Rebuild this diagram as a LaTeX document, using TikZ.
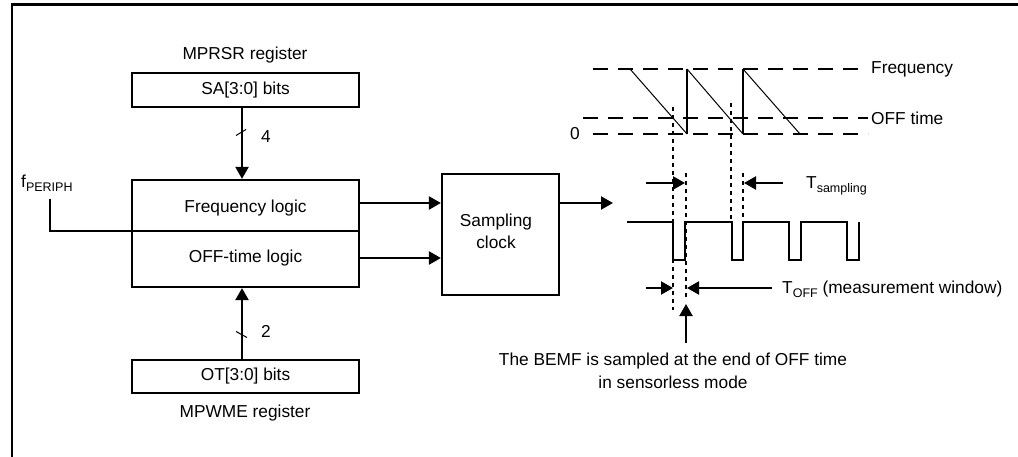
\documentclass[tikz,border=0pt]{standalone}
\usepackage{fontspec}
\setmainfont{Liberation Sans}
\usetikzlibrary{arrows.meta}
\newcommand\mysub[1]{\raisebox{-0.45ex}{\fontsize{12.5}{12.5}\selectfont #1}}
\begin{document}
\begin{tikzpicture}[x=1pt,y=-1pt,
  txt/.style={inner sep=0pt,font=\fontsize{17.3}{20}\selectfont},
  box/.style={draw,line width=2.2pt,inner sep=0pt,font=\fontsize{17.3}{20}\selectfont},
  thick2/.style={line width=2.2pt},
  arr/.style={line width=2.2pt,-{Triangle[length=12pt,width=13pt]}},
  dashH/.style={line width=2.2pt,dash pattern=on 15pt off 10pt},
  dashV/.style={line width=2.2pt,dash pattern=on 4pt off 4pt},
  thin1/.style={line width=1pt}]
\useasboundingbox (0,0) rectangle (1018,457);
% frame
\coordinate (fl) at (12,457);
\coordinate (ftl) at (12,4.5);
\coordinate (ftr) at (1018,4.5);
\draw[thick2] (fl) -- (ftl) -- (ftr);
% left blocks
\node[txt] (mprsr) at (245,55) {MPRSR register};
\node[box,minimum width=227pt,minimum height=34pt] (sa) at (245.5,90) {SA[3:0] bits};
\node[box,minimum width=227pt,minimum height=107pt] (logic) at (245.5,233.5) {};
\node[txt] (freq) at (245.5,208) {Frequency logic};
\node[txt] (offl) at (245.5,258) {OFF-time logic};
\node[box,minimum width=227pt,minimum height=33pt] (ot) at (245.5,376.5) {OT[3:0] bits};
\node[txt] (mpwme) at (245,413) {MPWME register};
\node[txt,anchor=west] (fp) at (21,183) {f\mysub{PERIPH}};
\coordinate (fpa) at (50,199);
\coordinate (fpb) at (50,231);
\draw[thick2] (fpa) -- (fpb) -- (fpb -| logic.east);
\draw[arr] ([xshift=-3.5pt]sa.south) -- ([xshift=-3.5pt]logic.north);
\draw[arr] ([xshift=-3.5pt]ot.north) -- ([xshift=-3.5pt]logic.south);
\coordinate (s1a) at (236,135.5); \coordinate (s1b) at (246,129.5);
\draw[thin1] (s1a) -- (s1b);
\coordinate (s2a) at (236,331.5); \coordinate (s2b) at (247,337.5);
\draw[thin1] (s2a) -- (s2b);
\node[txt] (n4) at (266,137) {4};
\node[txt] (n2) at (266,331) {2};
% sampling clock
\node[box,minimum width=117pt,minimum height=121pt] (samp) at (500.5,234.5) {};
\node[txt,align=center] (samptxt) at (496,231) {Sampling\\[2pt]clock};
\coordinate (y1) at (0,203);
\coordinate (y2) at (0,258);
\draw[arr] (logic.east |- y1) -- (samp.west |- y1);
\draw[arr] (logic.east |- y2) -- (samp.west |- y2);
\coordinate (outend) at (613,203);
\draw[arr] (samp.east |- y1) -- (outend);
% sawtooth
\coordinate (fq1) at (593,69); \coordinate (fq2) at (862,69);
\coordinate (of1) at (583,118); \coordinate (of2) at (868,118);
\coordinate (z1) at (593,134); \coordinate (z2) at (868,134);
\draw[dashH] (fq1) -- (fq2);
\draw[dashH] (of1) -- (of2);
\draw[dashH] (z1) -- (z2);
\node[txt,anchor=west] (lfreq) at (871,69) {Frequency};
\node[txt,anchor=west] (loff) at (871,118) {OFF time};
\node[txt] (lzero) at (575,134) {0};
\coordinate (d1a) at (630,69); \coordinate (d1b) at (687,134);
\coordinate (d2a) at (687,69); \coordinate (d2b) at (743,134);
\coordinate (d3a) at (743,69); \coordinate (d3b) at (800,134);
\draw[thin1] (d1a) -- (d1b);
\draw[thin1] (d2a) -- (d2b);
\draw[thin1] (d3a) -- (d3b);
\draw[thick2] (d1b) -- (d2a);
\draw[thick2] (d2b) -- (d3a);
% vertical dashed guides
\coordinate (v1a) at (673,107); \coordinate (v1b) at (673,310);
\coordinate (v2a) at (686,173); \coordinate (v2b) at (686,297);
\coordinate (v3a) at (731,103); \coordinate (v3b) at (731,222);
\coordinate (v4a) at (743,173); \coordinate (v4b) at (743,222);
\draw[dashV] (v1a) -- (v1b);
\draw[dashV] (v2a) -- (v2b);
\draw[dashV] (v3a) -- (v3b);
\draw[dashV] (v4a) -- (v4b);
% pulse waveform
\coordinate (w0) at (627,222);
\draw[thick2] (w0) -- (673,222) -- (673,260) -- (685,260) -- (685,222) -- (732,222)
  -- (732,260) -- (743,260) -- (743,222) -- (789,222) -- (789,260) -- (801,260)
  -- (801,222) -- (847,222) -- (847,260) -- (859,260) -- (859,222);
% T sampling
\coordinate (ts1) at (646,183); \coordinate (ts1t) at (685,183);
\coordinate (ts2) at (783,183); \coordinate (ts2t) at (744,183);
\draw[arr] (ts1) -- (ts1t);
\draw[arr] (ts2) -- (ts2t);
\node[txt,anchor=west] (tsamp) at (806,186) {T\mysub{sampling}};
% T off
\coordinate (to1) at (646,288); \coordinate (to1t) at (673,288);
\coordinate (to2) at (772,288); \coordinate (to2t) at (687,288);
\draw[arr] (to1) -- (to1t);
\draw[arr] (to2) -- (to2t);
\node[txt,anchor=west] (toff) at (782,289) {T\mysub{OFF} (measurement window)};
% BEMF arrow
\coordinate (up1) at (686,343); \coordinate (up2) at (686,304);
\draw[arr] (up1) -- (up2);
\node[txt,align=center] (bemf) at (673,371) {The BEMF is sampled at the end of OFF time\\[3pt]in sensorless mode};
\end{tikzpicture}
\end{document}
